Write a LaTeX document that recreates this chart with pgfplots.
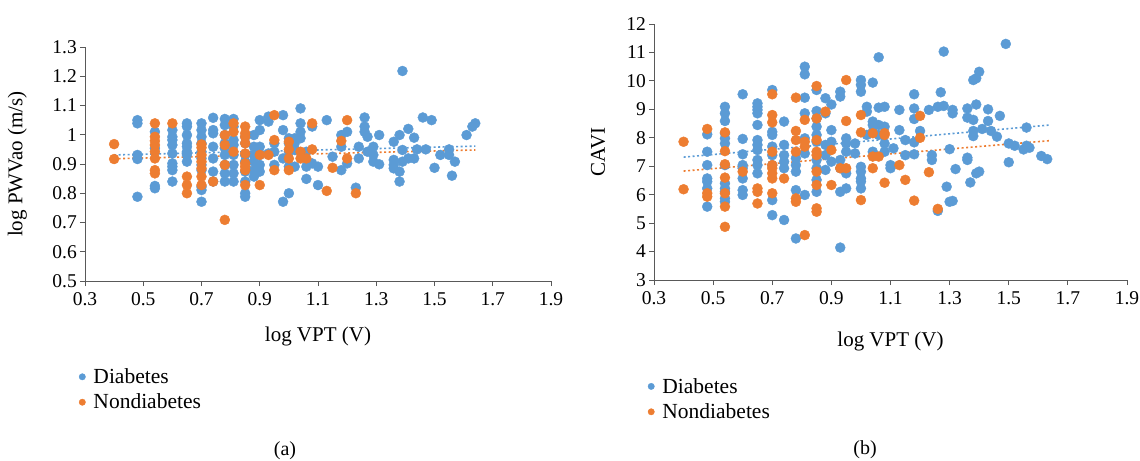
\documentclass[border=0pt]{standalone}
\usepackage{pgfplots}
\pgfplotsset{compat=1.18}
\usepackage{fontspec}
\setmainfont{Liberation Serif}
\definecolor{dblue}{HTML}{5B9BD5}
\definecolor{dorange}{HTML}{ED7D31}
\definecolor{axgray}{HTML}{595959}
\pgfplotsset{
  myax/.style={
    scale only axis,
    anchor=south west,
    axis x line=bottom, axis y line=left,
    axis line style={-, axgray, line width=0.8bp},
    tick style={axgray, line width=0.8bp},
    tick align=outside,
    major tick length=5bp,
    xmin=0.3, xmax=1.9,
    xtick={0.3,0.5,0.7,0.9,1.1,1.3,1.5,1.7,1.9},
    xticklabels={0.3,0.5,0.7,0.9,1.1,1.3,1.5,1.7,1.9},
    ticklabel style={font=\fontsize{19.5bp}{22bp}\selectfont},
    xticklabel style={yshift=-3bp},
    yticklabel style={inner xsep=3bp},
    label style={font=\fontsize{21bp}{24bp}\selectfont},
    clip=false,
    legend style={draw=none, fill=none, font=\fontsize{21.5bp}{25bp}\selectfont,
      anchor=north west, row sep=5bp, inner sep=0pt, cells={anchor=west}},
    legend image code/.code={\fill[#1] (0bp,0bp) circle (3.2bp); \path (-3.2bp,0bp) (9bp,0bp);},
  },
  dia/.style={only marks, mark=*, mark size=5bp, color=dblue, mark options={fill=dblue, draw=dblue}},
  non/.style={only marks, mark=*, mark size=5bp, color=dorange, mark options={fill=dorange, draw=dorange}},
  trb/.style={dblue, line width=1.6bp, dash pattern=on 2bp off 2.5bp, forget plot},
  tro/.style={dorange, line width=1.6bp, dash pattern=on 2bp off 2.5bp, forget plot},
}
\begin{document}
\begin{tikzpicture}
\path[use as bounding box] (0,0) rectangle (1140bp,-461bp);
% ---------------- (a) ----------------
\begin{axis}[myax,
  at={(85bp,-281bp)}, width=466bp, height=234bp,
  ymin=0.5, ymax=1.3,
  ytick={0.5,0.6,0.7,0.8,0.9,1,1.1,1.2,1.3},
  yticklabels={0.5,0.6,0.7,0.8,0.9,1,1.1,1.2,1.3},
  xlabel={log VPT (V)}, ylabel={log PWVao (m/s)},
  xlabel style={at={(axis description cs:0.5,-0.235)}, anchor=center},
  ylabel style={at={(axis description cs:-0.145,0.5)}, anchor=center},
  legend style={at={(axis description cs:-0.0135,-0.365)}},
]
\addplot[dia] coordinates {
(0.48,1.050)(0.48,1.039)(0.48,0.931)(0.48,0.917)(0.48,0.788)
(0.54,1.010)(0.54,0.954)(0.54,0.825)(0.54,0.817)
(0.60,1.016)(0.60,0.993)(0.60,0.982)(0.60,0.965)(0.60,0.936)(0.60,0.902)(0.60,0.891)(0.60,0.879)(0.60,0.840)
(0.65,1.039)(0.65,1.028)(0.65,0.999)(0.65,0.971)(0.65,0.959)(0.65,0.942)(0.65,0.931)(0.65,0.908)
(0.70,1.039)(0.70,1.016)(0.70,0.993)(0.70,0.971)(0.70,0.942)(0.70,0.919)(0.70,0.897)(0.70,0.879)(0.70,0.822)(0.70,0.811)(0.70,0.771)
(0.74,1.058)(0.74,1.016)(0.74,1.005)(0.74,0.959)(0.74,0.919)(0.74,0.874)(0.74,0.840)
(0.78,1.054)(0.78,1.033)(0.78,0.999)(0.78,0.971)(0.78,0.954)(0.78,0.931)(0.78,0.897)(0.78,0.868)(0.78,0.840)
(0.81,1.054)(0.81,1.028)(0.81,0.982)(0.81,0.965)(0.81,0.931)(0.81,0.897)(0.81,0.868)(0.81,0.840)
(0.85,0.993)(0.85,0.971)(0.85,0.931)(0.85,0.908)(0.85,0.874)(0.85,0.840)(0.85,0.800)(0.85,0.788)
(0.88,0.999)(0.88,0.959)(0.88,0.931)(0.88,0.908)(0.88,0.879)(0.88,0.857)
(0.90,1.050)(0.90,1.016)(0.90,0.959)(0.90,0.931)(0.90,0.897)(0.90,0.874)
(0.93,1.062)(0.93,1.045)(0.93,0.936)
(0.95,0.971)(0.95,0.942)(0.95,0.897)
(0.98,1.067)(0.98,1.016)(0.98,0.919)(0.98,0.771)
(1.00,0.988)(1.00,0.971)(1.00,0.942)(1.00,0.891)(1.00,0.800)
(1.02,0.988)(1.02,0.971)(1.02,0.948)(1.02,0.891)
(1.04,1.090)(1.04,1.039)(1.04,1.010)(1.04,0.988)
(1.06,0.942)(1.06,0.891)(1.06,0.849)
(1.08,1.028)(1.08,0.902)
(1.10,0.891)(1.10,0.828)
(1.13,1.050)(1.15,0.925)
(1.18,0.999)(1.18,0.959)(1.18,0.879)
(1.20,1.010)(1.20,0.902)
(1.23,0.819)(1.24,0.959)(1.24,0.919)
(1.26,1.059)(1.26,1.028)(1.26,1.010)
(1.27,0.993)(1.27,0.942)
(1.29,0.959)(1.29,0.931)(1.29,0.908)
(1.31,0.999)(1.31,0.899)
(1.36,0.976)(1.36,0.914)(1.36,0.897)(1.36,0.885)
(1.38,0.999)(1.38,0.874)(1.38,0.840)
(1.39,1.218)(1.39,0.948)(1.39,0.908)
(1.41,1.020)(1.41,0.919)
(1.43,0.990)(1.43,0.919)(1.44,0.950)
(1.46,1.059)(1.47,0.950)(1.49,1.050)(1.50,0.887)(1.52,0.931)
(1.55,0.950)(1.55,0.931)(1.56,0.860)(1.57,0.908)
(1.61,0.999)(1.63,1.028)(1.64,1.039)
};
\addlegendentry{Diabetes}
\addplot[non] coordinates {
(0.40,0.968)(0.40,0.917)
(0.54,1.039)(0.54,0.993)(0.54,0.979)(0.54,0.965)(0.54,0.942)(0.54,0.919)(0.54,0.879)(0.54,0.868)
(0.60,1.039)
(0.65,0.857)(0.65,0.828)(0.65,0.800)
(0.70,0.967)(0.70,0.956)(0.70,0.931)(0.70,0.908)(0.70,0.885)(0.70,0.857)(0.70,0.828)
(0.74,0.840)
(0.78,0.999)(0.78,0.965)(0.78,0.897)(0.78,0.709)
(0.81,1.039)(0.81,1.010)(0.81,0.942)
(0.85,1.028)(0.85,1.005)(0.85,0.993)(0.85,0.971)(0.85,0.936)(0.85,0.902)(0.85,0.891)(0.85,0.879)(0.85,0.828)
(0.90,0.931)(0.90,0.828)
(0.93,0.931)
(0.95,1.067)(0.95,0.982)(0.95,0.879)
(1.00,0.976)(1.00,0.950)(1.00,0.919)(1.00,0.879)
(1.04,0.942)(1.04,0.919)
(1.06,0.919)
(1.08,1.039)(1.08,0.950)
(1.13,0.808)(1.15,0.887)(1.18,0.979)
(1.20,1.050)(1.20,0.919)
(1.23,0.800)
};
\addlegendentry{Nondiabetes}
\addplot[trb] coordinates {(0.40,0.931)(1.64,0.961)};
\addplot[tro] coordinates {(0.40,0.918)(1.64,0.948)};
\end{axis}
% ---------------- (b) ----------------
\begin{axis}[myax,
  at={(654bp,-280bp)}, width=473bp, height=256bp,
  ymin=3, ymax=12,
  ytick={3,4,5,6,7,8,9,10,11,12},
  yticklabels={3,4,5,6,7,8,9,10,11,12},
  xlabel={log VPT (V)}, ylabel={CAVI},
  xlabel style={at={(axis description cs:0.5,-0.24)}, anchor=center},
  ylabel style={at={(axis description cs:-0.118,0.5)}, anchor=center},
  legend style={at={(axis description cs:-0.0135,-0.375)}},
]
\addplot[dia] coordinates {
(0.48,8.12)(0.48,7.51)(0.48,7.04)(0.48,6.57)(0.48,6.46)(0.48,6.22)(0.48,5.58)
(0.54,9.09)(0.54,8.86)(0.54,8.59)(0.54,8.16)(0.54,7.98)(0.54,7.80)(0.54,7.04)(0.54,6.40)(0.54,6.22)(0.54,6.10)(0.54,5.87)(0.54,5.75)
(0.60,9.53)(0.60,7.96)(0.60,7.42)(0.60,7.04)(0.60,6.93)(0.60,6.57)(0.60,6.16)(0.60,5.99)
(0.65,9.21)(0.65,9.09)(0.65,8.98)(0.65,8.86)(0.65,8.45)(0.65,7.92)(0.65,7.75)(0.65,7.57)(0.65,7.22)(0.65,7.04)(0.65,6.75)
(0.70,9.68)(0.70,8.21)(0.70,8.10)(0.70,7.69)(0.70,7.39)(0.70,7.04)(0.70,5.81)(0.70,5.28)
(0.74,8.57)(0.74,7.75)(0.74,7.39)(0.74,7.16)(0.74,6.93)(0.74,5.11)
(0.78,7.28)(0.78,7.04)(0.78,6.81)(0.78,6.16)(0.78,4.46)
(0.81,10.50)(0.81,10.23)(0.81,9.41)(0.81,8.86)(0.81,7.98)(0.81,7.45)(0.81,5.99)
(0.85,9.68)(0.85,8.94)(0.85,8.68)(0.85,8.39)(0.85,8.10)(0.85,7.86)(0.85,7.22)(0.85,6.93)(0.85,6.52)(0.85,6.10)
(0.88,9.39)(0.88,8.86)(0.88,7.75)(0.88,7.39)(0.88,6.87)
(0.90,9.17)(0.90,8.27)(0.90,7.86)(0.90,7.16)
(0.93,9.62)(0.93,9.45)(0.93,7.22)(0.93,6.93)(0.93,6.10)(0.93,4.14)
(0.95,7.98)(0.95,7.80)(0.95,7.51)(0.95,6.75)(0.95,6.22)
(0.98,7.80)(0.98,7.45)
(1.00,10.03)(1.00,9.86)(1.00,9.62)(1.00,6.98)(1.00,6.81)(1.00,6.57)(1.00,6.46)(1.00,6.22)
(1.02,9.09)(1.02,8.92)(1.02,8.10)
(1.04,9.94)(1.04,8.57)(1.04,8.45)(1.04,8.21)(1.04,7.51)
(1.06,10.83)(1.06,9.06)(1.06,8.45)(1.06,8.10)
(1.08,9.09)(1.08,8.39)(1.08,7.80)(1.08,7.51)
(1.10,7.04)(1.10,6.93)(1.11,7.63)
(1.13,8.98)(1.13,8.27)
(1.15,7.92)(1.15,7.39)
(1.18,9.53)(1.18,9.03)(1.18,8.66)(1.18,7.84)(1.18,7.42)
(1.20,8.24)(1.23,8.98)
(1.24,7.39)(1.24,7.22)
(1.26,9.09)(1.26,5.43)(1.27,9.60)
(1.28,11.03)(1.28,9.12)(1.29,6.28)
(1.30,7.60)(1.30,5.75)
(1.31,8.98)(1.31,8.86)(1.31,5.78)(1.32,6.90)
(1.36,9.03)(1.36,8.71)(1.36,7.30)(1.36,7.22)(1.37,6.43)
(1.38,10.03)(1.38,8.63)(1.38,8.24)(1.38,8.06)
(1.39,10.09)(1.39,9.17)(1.39,6.75)
(1.40,10.32)(1.40,6.81)(1.41,8.31)
(1.43,9.00)(1.43,8.59)(1.44,8.24)
(1.46,8.04)(1.47,8.77)(1.49,11.30)
(1.50,7.80)(1.50,7.14)(1.52,7.72)(1.55,7.59)
(1.56,8.36)(1.56,7.72)(1.57,7.65)
(1.61,7.36)(1.63,7.25)
};
\addlegendentry{Diabetes}
\addplot[non] coordinates {
(0.40,7.86)(0.40,6.19)
(0.48,8.31)(0.48,6.05)(0.48,5.93)
(0.54,8.19)(0.54,7.53)(0.54,7.07)(0.54,6.60)(0.54,6.05)(0.54,5.58)(0.54,4.87)
(0.60,6.81)
(0.65,6.22)(0.65,6.10)(0.65,5.69)
(0.70,9.53)(0.70,8.80)(0.70,8.54)(0.70,7.51)(0.70,7.04)(0.70,6.93)(0.70,6.75)(0.70,6.57)(0.70,6.05)
(0.74,6.57)
(0.78,9.41)(0.78,8.24)(0.78,7.92)(0.78,7.51)(0.78,5.87)(0.78,5.75)
(0.81,8.63)(0.81,7.86)(0.81,7.69)(0.81,4.58)
(0.85,9.82)(0.85,8.68)(0.85,7.92)(0.85,7.51)(0.85,7.39)(0.85,6.81)(0.85,6.34)(0.85,5.52)(0.85,5.40)
(0.88,8.92)
(0.90,7.57)(0.90,6.34)
(0.93,6.93)
(0.95,10.03)(0.95,8.59)(0.95,6.93)
(1.00,8.80)(1.00,8.19)(1.00,5.81)
(1.04,8.16)(1.04,7.34)(1.04,6.93)
(1.06,7.34)
(1.08,8.16)(1.08,8.10)(1.08,6.42)
(1.13,7.04)(1.15,6.52)(1.18,5.79)
(1.20,8.77)(1.20,8.00)
(1.23,6.79)(1.26,5.50)
};
\addlegendentry{Nondiabetes}
\addplot[trb] coordinates {(0.40,7.32)(1.64,8.45)};
\addplot[tro] coordinates {(0.40,6.83)(1.64,7.90)};
\end{axis}
\node[font=\fontsize{20bp}{23bp}\selectfont] at (285bp,-451bp) {(a)};
\node[font=\fontsize{20bp}{23bp}\selectfont] at (865bp,-450bp) {(b)};
\end{tikzpicture}
\end{document}
